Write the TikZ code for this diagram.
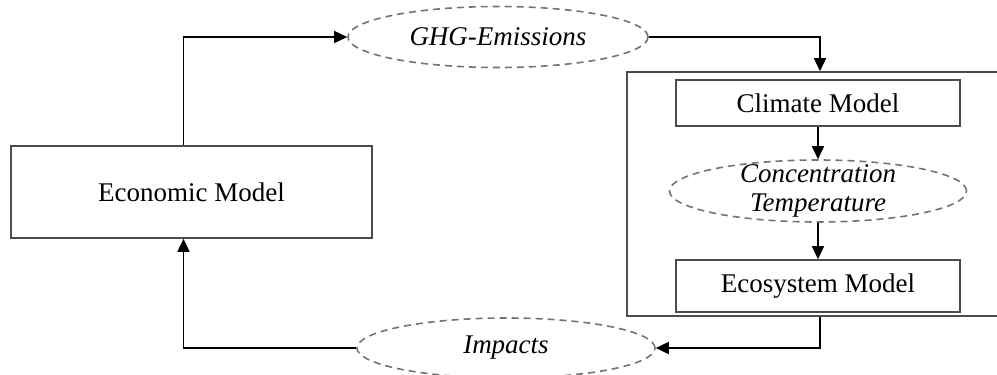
\documentclass[tikz,border=0pt]{standalone}
\usepackage{fontspec}
\setmainfont{Liberation Serif}
\usetikzlibrary{shapes.geometric,arrows.meta}

\tikzset{
  modelbox/.style={draw=black!70, line width=1.6pt, rectangle, inner sep=0pt,
    font=\fontsize{27}{30}\selectfont},
  varell/.style={draw=black!55, line width=1.6pt, dash pattern=on 7pt off 5pt,
    ellipse, inner sep=0pt, font=\fontsize{27}{30}\selectfont\itshape},
  flow/.style={line width=1.6pt, -{Triangle[length=13pt,width=12pt]}}
}

\begin{document}
\begin{tikzpicture}[x=1pt,y=-1pt]
  \useasboundingbox (0,0) rectangle (997,375);
  % --- Modelos ---
  \node[modelbox, minimum width=361pt, minimum height=92pt] (econ) at (191.5,192) {Economic Model};
  \node[modelbox, minimum width=386pt, minimum height=244pt] (climsys) at (820,194) {};
  \node[modelbox, minimum width=284pt, minimum height=46pt] (climate) at (818,103) {Climate Model};
  \node[modelbox, minimum width=284pt, minimum height=52pt] (ecosys) at (818,286) {Ecosystem Model};
  % --- Variables ---
  \node[varell, minimum width=300pt, minimum height=61pt] (ghg) at (498,37) {GHG-Emissions};
  \node[varell, minimum width=297pt, minimum height=62pt,
    label={[font=\fontsize{27}{29}\selectfont\itshape, align=center]center:Concentration\\Temperature}] (conc) at (818,191) {};
  \node[varell, minimum width=298pt, minimum height=60pt] (impacts) at (506,348) {Impacts};
  % --- Flechas ---
  \draw[flow] ([xshift=-8pt]econ.north) |- (ghg.west);
  \draw[flow] (ghg.east) -| (climsys.north);
  \draw[flow] (climate) -- (conc);
  \draw[flow] (conc) -- (ecosys);
  \draw[flow] (climsys.south) |- (impacts.east);
  \draw[flow] (impacts.west) -| ([xshift=-8pt]econ.south);
\end{tikzpicture}
\end{document}
